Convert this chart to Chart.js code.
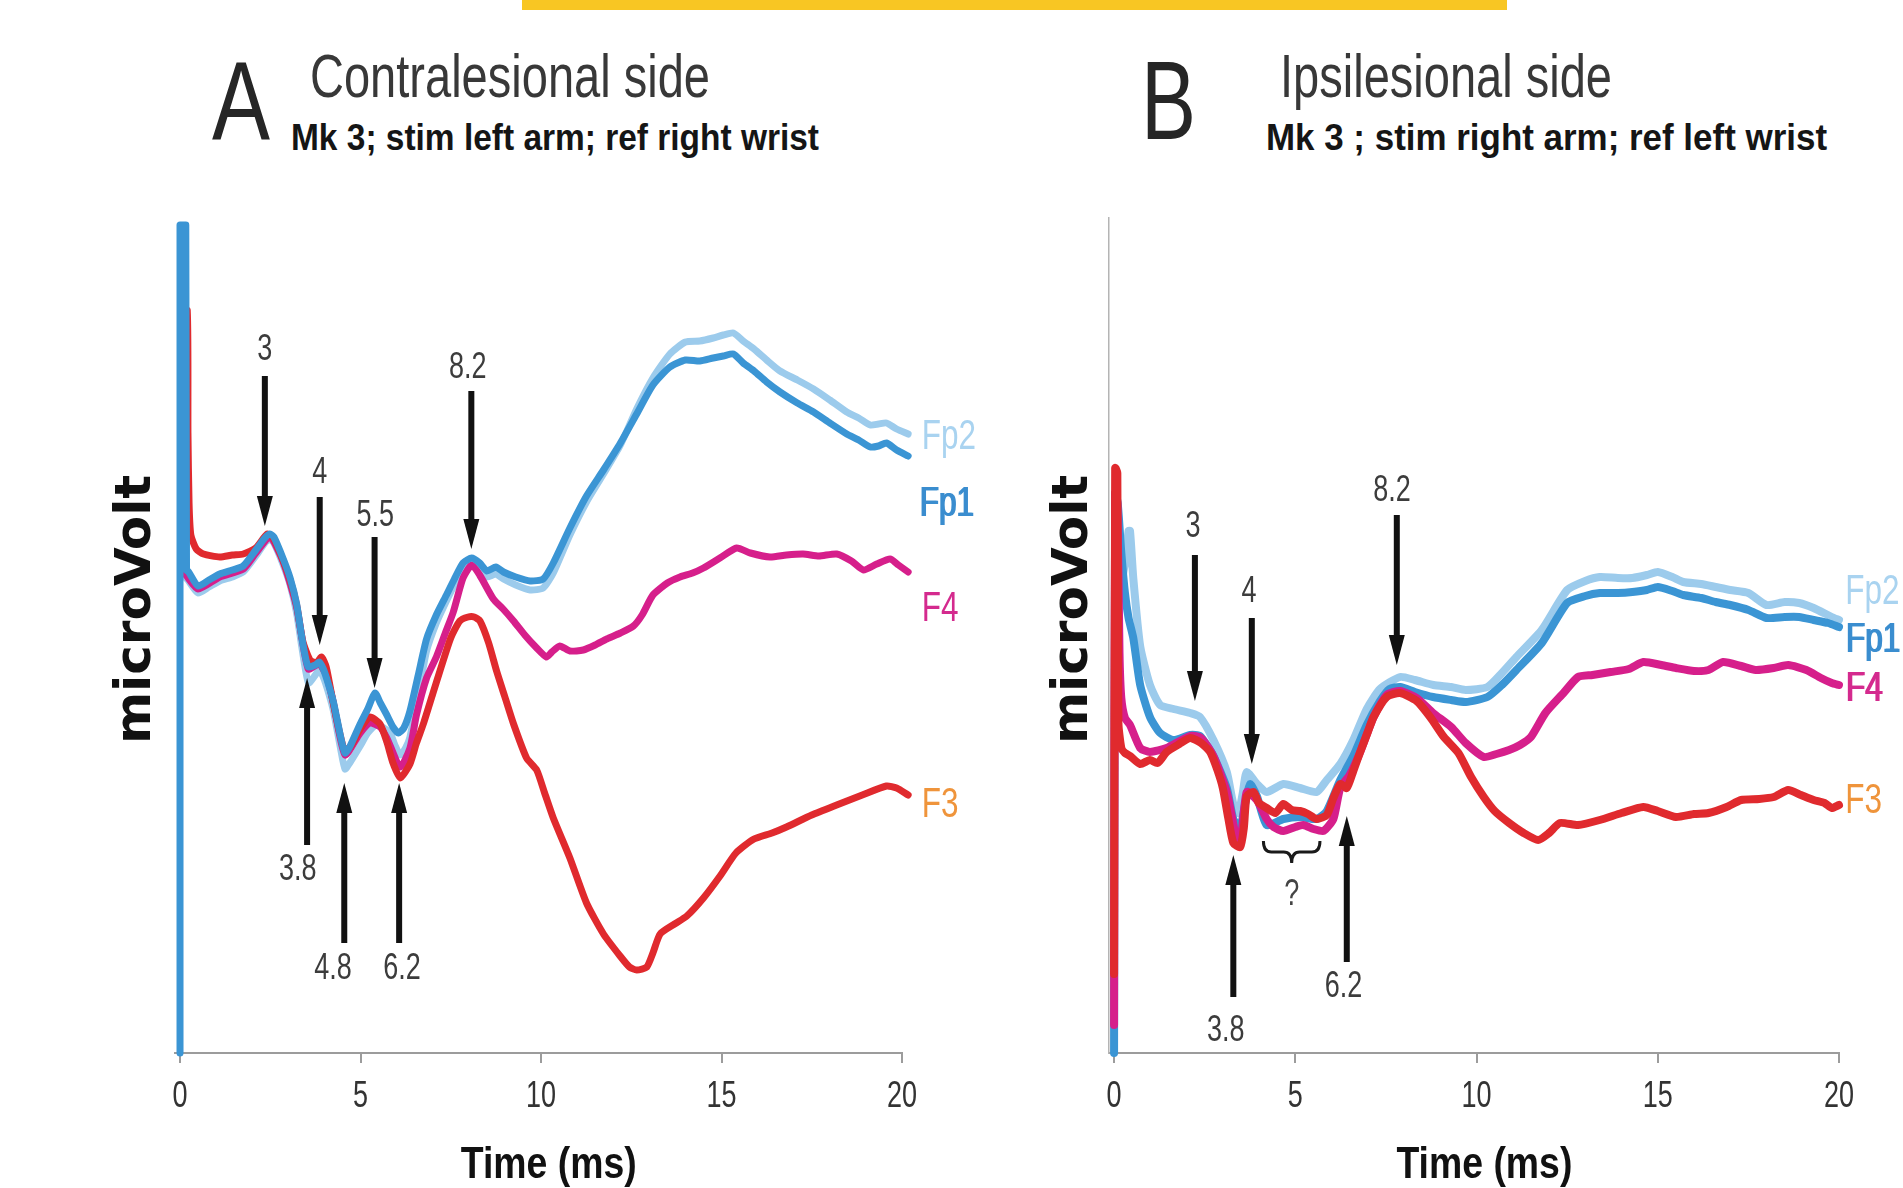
<!DOCTYPE html>
<html>
<head>
<meta charset="utf-8">
<title>Evoked potentials – contralesional and ipsilesional side</title>
<script src="https://cdn.jsdelivr.net/npm/chart.js@4.4.1/dist/chart.umd.min.js"></script>
<style>
  html, body { margin: 0; padding: 0; background: #fff; overflow: hidden; }
  body { width: 1903px; height: 1188px; position: relative; }
  .bar { position: absolute; left: 522px; top: 0; width: 985px; height: 10px; background: #f8c623; }
  .hd { position: absolute; white-space: nowrap; line-height: 1; transform-origin: 0 0; }
  .letter { font-family: 'Liberation Sans', sans-serif; font-size: 112px; color: #262626; }
  .side { font-family: 'Liberation Sans', sans-serif; font-size: 62px; color: #383838; }
  .sub { font-family: 'Liberation Sans', sans-serif; font-size: 37px; font-weight: bold; color: #151515; }
  canvas { position: absolute; top: 0; }
</style>
</head>
<body>
<div class="bar"></div>
<div class="hd letter" data-w="58" style="left:212px; top:45px;">A</div>
<div class="hd side" data-w="400" style="left:310px; top:45px;">Contralesional side</div>
<div class="hd sub" data-w="528" style="left:291px; top:119px;">Mk 3; stim left arm; ref right wrist</div>
<div class="hd letter" data-w="55" style="left:1141px; top:45px;">B</div>
<div class="hd side" data-w="332" style="left:1280px; top:45px;">Ipsilesional side</div>
<div class="hd sub" data-w="561" style="left:1266px; top:119px;">Mk 3 ; stim right arm; ref left wrist</div>
<canvas id="contra" width="1000" height="1188" style="left:0;"></canvas>
<canvas id="ipsi" width="903" height="1188" style="left:1000px;"></canvas>
<script>
// ---- Time axis ----
const timeTicks = [0, 5, 10, 15, 20];

// ---- A: contralesional side, [time ms, µV] ----
const contraFp2 = [[0.1,50],[0.16,47.5],[0.22,47.3],[0.5,46.0],[0.8,46.6],[1.1,47.2],[1.45,47.6],[1.75,48.1],[2.1,49.7],[2.35,51.0],[2.49,51.4],[2.6,51.0],[2.86,48.8],[3.05,46.8],[3.23,44.0],[3.4,40.0],[3.56,37.0],[3.75,37.8],[3.85,38.3],[3.97,37.6],[4.1,36.2],[4.25,34.2],[4.45,30.4],[4.57,28.4],[4.7,29.0],[4.99,30.7],[5.2,32.0],[5.45,32.9],[5.6,32.6],[5.82,32.0],[5.95,30.8],[6.1,29.8],[6.25,30.5],[6.37,31.6],[6.6,35.8],[6.83,40.2],[7.1,43.0],[7.38,45.2],[7.6,46.8],[7.84,48.4],[8.08,48.9],[8.3,48.4],[8.5,47.6],[8.75,47.9],[8.96,47.4],[9.3,46.8],[9.7,46.3],[10.06,46.5],[10.34,48.0],[10.8,51.8],[11.26,55.1],[11.73,57.9],[12.2,60.8],[12.65,64.4],[13.1,67.5],[13.57,69.9],[14.0,71.1],[14.4,71.2],[14.77,71.5],[15.05,71.8],[15.33,72.0],[15.6,71.2],[15.9,70.4],[16.25,69.3],[16.62,68.2],[17.1,67.3],[17.55,66.4],[18.0,65.3],[18.47,64.1],[18.8,63.5],[19.12,62.8],[19.35,62.9],[19.57,63.0],[19.85,62.4],[20.17,61.9]];
// stimulus artefact on Fp1 (drawn with straight edges)
const contraFp1Artefact = [[0,0],[0,82.8],[0.16,82.8],[0.18,48.3]];
const contraFp1 = [[0.18,48.3],[0.24,48.1],[0.5,46.7],[0.8,47.3],[1.1,47.9],[1.45,48.3],[1.75,48.7],[2.1,50.3],[2.35,51.5],[2.49,51.9],[2.6,51.6],[2.86,49.4],[3.05,47.5],[3.23,44.9],[3.4,41.0],[3.55,38.6],[3.75,38.8],[3.85,39.1],[3.97,38.4],[4.1,37.0],[4.25,35.1],[4.45,31.6],[4.57,30.0],[4.7,30.6],[4.99,32.9],[5.2,34.4],[5.4,36.0],[5.55,35.0],[5.73,33.8],[5.9,32.6],[6.05,32.0],[6.2,32.5],[6.37,34.2],[6.6,37.8],[6.83,41.4],[7.1,43.8],[7.38,45.8],[7.6,47.4],[7.84,49.0],[8.08,49.5],[8.3,49.0],[8.5,48.2],[8.75,48.6],[8.96,48.1],[9.3,47.6],[9.7,47.2],[10.06,47.4],[10.34,49.0],[10.8,52.5],[11.26,55.7],[11.73,58.3],[12.2,61.0],[12.65,63.9],[13.1,66.8],[13.57,68.6],[14.0,69.3],[14.4,69.2],[14.77,69.5],[15.05,69.7],[15.33,69.9],[15.6,69.0],[15.9,68.2],[16.25,67.1],[16.62,66.1],[17.1,65.0],[17.55,64.1],[18.0,63.0],[18.47,61.9],[18.8,61.3],[19.12,60.6],[19.35,60.7],[19.57,61.0],[19.85,60.3],[20.17,59.7]];
const contraF4 = [[0.1,48],[0.16,47.8],[0.5,46.4],[1.1,47.6],[1.75,48.4],[2.1,50.0],[2.49,51.6],[2.86,49.1],[3.23,44.6],[3.55,38.4],[3.85,38.9],[4.05,37.8],[4.25,35.0],[4.57,29.8],[4.99,32.0],[5.26,33.0],[5.54,32.6],[5.73,31.5],[6.1,28.6],[6.37,30.5],[6.55,33.8],[6.83,37.5],[7.1,39.6],[7.35,42.0],[7.57,44.1],[7.84,47.5],[8.08,48.8],[8.3,47.8],[8.68,45.4],[8.95,44.4],[9.24,43.2],[9.55,41.8],[9.88,40.5],[10.15,39.6],[10.3,40.1],[10.52,40.7],[10.8,40.2],[11.17,40.3],[11.5,40.8],[11.82,41.4],[12.2,42.0],[12.56,42.7],[12.8,43.8],[13.1,45.8],[13.5,47.0],[13.85,47.6],[14.2,48.0],[14.5,48.5],[15.0,49.6],[15.42,50.5],[15.8,50.0],[16.34,49.6],[16.8,49.8],[17.26,49.9],[17.7,49.7],[18.19,49.9],[18.6,49.2],[18.93,48.3],[19.3,48.9],[19.67,49.4],[19.9,48.8],[20.17,48.1]];
const contraF3 = [[0.05,74.5],[0.2,74.3],[0.22,62],[0.25,55],[0.3,51.8],[0.45,50.4],[0.65,49.9],[1.1,49.6],[1.45,49.8],[1.75,49.9],[2.1,50.5],[2.42,51.9],[2.6,51.4],[2.86,49.2],[3.05,47.3],[3.23,44.8],[3.4,41.2],[3.6,39.3],[3.78,39.0],[3.92,39.6],[4.05,38.6],[4.25,34.9],[4.45,31.6],[4.57,30.2],[4.75,30.8],[4.99,32.4],[5.26,33.6],[5.54,32.9],[5.73,31.1],[5.9,29.0],[6.1,27.5],[6.37,28.9],[6.55,31.0],[6.74,32.9],[7.0,35.9],[7.2,38.2],[7.5,41.5],[7.75,43.2],[7.98,43.6],[8.15,43.6],[8.31,43.2],[8.55,41.0],[8.77,38.2],[9.0,35.6],[9.24,32.9],[9.6,29.5],[9.88,28.3],[10.1,26.0],[10.34,23.5],[10.8,19.5],[11.26,15.0],[11.73,11.9],[12.19,9.7],[12.45,8.6],[12.65,8.3],[12.93,8.6],[13.1,10.0],[13.3,11.9],[13.7,12.9],[14.04,13.7],[14.5,15.5],[14.96,17.7],[15.4,20.0],[15.9,21.4],[16.4,22.0],[16.8,22.6],[17.5,23.8],[18.19,24.8],[18.9,25.8],[19.57,26.7],[19.85,26.5],[20.17,25.8]];

// ---- B: ipsilesional side, [time ms, µV] ----
const ipsiFp2 = [[0.1,45],[0.3,49],[0.4,52.2],[0.44,52.2],[0.53,47.5],[0.72,40.7],[0.99,36.8],[1.27,34.8],[1.64,34.4],[2.1,34.0],[2.37,33.6],[2.74,31.3],[3.11,28.1],[3.29,24.9],[3.43,24.0],[3.55,26.0],[3.66,28.1],[3.94,26.9],[4.21,26.1],[4.67,26.9],[5.13,26.5],[5.59,26.1],[5.87,27.3],[6.24,28.9],[6.6,31.3],[6.97,34.4],[7.34,36.4],[7.89,37.6],[8.3,37.3],[8.81,36.8],[9.3,36.6],[9.7,36.3],[10.3,36.6],[10.7,38.0],[11.1,39.6],[11.8,42.3],[12.5,46.3],[13.0,47.2],[13.4,47.6],[13.9,47.5],[14.3,47.5],[14.7,47.8],[15.0,48.1],[15.4,47.6],[15.7,47.1],[16.2,46.9],[16.6,46.6],[17.0,46.3],[17.5,46.0],[18.0,44.8],[18.5,45.1],[18.9,45.0],[19.3,44.5],[19.8,43.6],[20.0,43.3]];
const ipsiFp1 = [[0,0],[0.03,56],[0.1,55],[0.2,50],[0.3,46],[0.4,43.5],[0.53,41.5],[0.72,36.8],[0.99,33.6],[1.27,32.0],[1.64,31.3],[2.1,31.8],[2.37,31.7],[2.74,29.7],[3.11,26.5],[3.29,23.4],[3.48,22.6],[3.62,25.0],[3.75,26.9],[3.94,25.7],[4.21,22.8],[4.67,23.4],[5.13,23.6],[5.59,23.4],[5.87,24.2],[6.24,27.3],[6.6,29.7],[6.97,32.8],[7.34,35.2],[7.6,36.4],[7.89,36.6],[8.3,36.1],[8.8,35.6],[9.3,35.3],[9.7,35.1],[10.3,35.6],[10.7,36.8],[11.1,38.3],[11.8,41.0],[12.5,45.0],[13.0,45.7],[13.4,46.0],[13.9,46.0],[14.3,46.1],[14.7,46.3],[15.0,46.6],[15.4,46.2],[15.7,45.8],[16.2,45.5],[16.6,45.1],[17.0,44.8],[17.5,44.3],[18.0,43.5],[18.5,43.6],[18.9,43.6],[19.3,43.3],[19.7,43.0],[20.0,42.6]];
const ipsiF4 = [[0,2.8],[0.03,56],[0.09,55],[0.15,40],[0.2,35.5],[0.3,33.5],[0.44,32.8],[0.72,30.5],[0.99,30.1],[1.45,30.5],[2.1,31.7],[2.4,31.5],[2.74,29.7],[3.11,26.1],[3.38,21.4],[3.5,21.5],[3.66,26.1],[3.94,25.3],[4.21,23.4],[4.4,22.6],[4.67,22.2],[5.0,22.6],[5.22,22.8],[5.5,22.4],[5.78,22.2],[6.05,23.4],[6.24,26.5],[6.5,27.8],[6.79,30.1],[7.16,33.6],[7.52,35.8],[7.89,36.2],[8.35,35.5],[8.8,34.0],[9.3,32.6],[9.7,31.0],[10.2,29.6],[10.55,29.9],[10.9,30.3],[11.2,30.8],[11.5,31.6],[11.9,34.0],[12.4,36.0],[12.8,37.6],[13.2,37.8],[13.7,38.1],[14.2,38.4],[14.6,39.1],[15.1,38.8],[15.5,38.5],[16.0,38.2],[16.4,38.3],[16.8,39.1],[17.3,38.7],[17.7,38.3],[18.2,38.5],[18.6,38.8],[19.1,38.3],[19.5,37.5],[19.8,37.0],[20.0,36.8]];
const ipsiF3 = [[0,7.9],[0.03,58.5],[0.09,58.0],[0.12,33],[0.2,30.5],[0.3,30.0],[0.44,29.7],[0.72,28.9],[0.99,29.3],[1.2,29.0],[1.45,30.1],[1.8,30.9],[2.1,31.5],[2.4,31.0],[2.65,30.1],[2.85,28.3],[3.0,26.5],[3.15,23.5],[3.29,21.0],[3.48,20.6],[3.58,22.5],[3.66,25.7],[3.85,26.1],[4.0,25.0],[4.21,24.5],[4.45,24.0],[4.67,24.9],[4.9,24.3],[5.13,24.2],[5.35,23.9],[5.59,23.4],[5.87,23.8],[6.05,25.5],[6.24,26.9],[6.42,26.5],[6.6,28.2],[6.79,30.1],[7.0,32.1],[7.16,33.6],[7.52,35.6],[7.89,36.0],[8.35,35.2],[8.72,33.6],[9.1,31.6],[9.5,30.0],[9.85,27.6],[10.2,25.6],[10.5,24.2],[10.9,23.0],[11.3,22.0],[11.7,21.3],[12.0,22.0],[12.3,23.0],[12.8,22.8],[13.4,23.3],[14.0,24.0],[14.6,24.6],[15.0,24.2],[15.5,23.6],[16.0,23.9],[16.4,24.0],[16.9,24.6],[17.3,25.3],[17.8,25.4],[18.2,25.6],[18.6,26.3],[18.95,25.8],[19.3,25.3],[19.6,25.0],[19.8,24.5],[20.0,24.8]];

// ---- latency markers: arrow time (ms), tail / tip (µV), label text, label time (ms) and level (µV) ----
const contraMarkTimes  = [2.35, 3.87, 5.39, 8.07, 3.52, 4.55, 6.07];
const contraMarkTails  = [67.7, 55.6, 51.6, 66.2, 20.8, 11.0, 11.0];
const contraMarkTips   = [52.7, 40.8, 36.5, 50.4, 37.5, 27.0, 27.0];
const contraMarkLabels = ['3', '4', '5.5', '8.2', '3.8', '4.8', '6.2'];
const contraLabelTimes  = [2.35, 3.87, 5.41, 7.97, 3.26, 4.24, 6.15];
const contraLabelLevels = [70.3, 58.0, 53.7, 68.5, 18.3, 8.4, 8.4];

const ipsiMarkTimes  = [2.23, 3.8, 7.8, 3.29, 6.42];
const ipsiMarkTails  = [49.8, 43.5, 53.8, 5.6, 9.1];
const ipsiMarkTips   = [35.2, 28.9, 38.8, 19.8, 23.7];
const ipsiMarkLabels = ['3', '4', '8.2', '3.8', '6.2'];
const ipsiLabelTimes  = [2.18, 3.72, 7.67, 3.08, 6.33];
const ipsiLabelLevels = [52.6, 46.1, 56.2, 2.2, 6.6];
// uncertain component span: start, end (ms), brace top / point (µV), query level (µV)
const ipsiQuerySpan = [4.12, 5.68, 21.2, 19.0, 15.8];

// ---- electrode names and where they sit at the right end ----
const electrodes = ['Fp2', 'Fp1', 'F4', 'F3'];
const contraNameTimes  = [20.55, 20.47, 20.55, 20.55];
const contraNameLevels = [61.6, 54.9, 44.4, 24.8];
const ipsiNameTimes  = [20.17, 20.17, 20.17, 20.17];
const ipsiNameLevels = [46.1, 41.3, 36.4, 25.2];

// ---- styling ----
const SANS = "'Liberation Sans', Arial, sans-serif";
const lineColors  = { Fp2: '#9ccbec', Fp1: '#3b95d4', F4: '#d61f8b', F3: '#e02a2e' };
const labelColors = { Fp2: '#a9d3f0', Fp1: '#3a8dcf', F4: '#d42a8e', F3: '#ef943b' };

// fit the heading lines to their measured widths (condensed type)
document.querySelectorAll('.hd').forEach(el => {
  const w = el.getBoundingClientRect().width;
  const target = parseFloat(el.dataset.w);
  el.style.transform = 'scaleX(' + (target / w).toFixed(4) + ')';
});

// condensed lettering for the sans labels on the canvas: squeeze each string
// horizontally through fillText's maxWidth argument
const condensed = {
  id: 'condensed',
  beforeDraw(chart) {
    const ctx = chart.ctx;
    if (ctx.plainFillText) return;
    const plain = ctx.fillText;
    ctx.plainFillText = plain;
    ctx.fillText = function (text, x, y, maxWidth) {
      if (/Liberation Sans/.test(this.font)) {
        const f = /bold|[6-9]00/.test(this.font) ? 0.85 : 0.75;
        const w = this.measureText(text).width * f;
        maxWidth = maxWidth === undefined ? w : Math.min(maxWidth, w);
      }
      return maxWidth === undefined ? plain.call(this, text, x, y) : plain.call(this, text, x, y, maxWidth);
    };
  }
};

function drawArrow(ctx, x, yTail, yTip) {
  const dir = yTip > yTail ? 1 : -1;
  const headLen = 30, headHalf = 8, shaftHalf = 3;
  const yBase = yTip - dir * headLen;
  ctx.fillRect(x - shaftHalf, Math.min(yTail, yBase), shaftHalf * 2, Math.abs(yBase - yTail));
  ctx.beginPath();
  ctx.moveTo(x - headHalf, yBase);
  ctx.lineTo(x + headHalf, yBase);
  ctx.lineTo(x, yTip);
  ctx.closePath();
  ctx.fill();
}

const markers = {
  id: 'markers',
  afterDatasetsDraw(chart, args, opts) {
    const { ctx } = chart;
    const xs = chart.scales.x, ys = chart.scales.y;
    ctx.save();
    // latency arrows
    ctx.fillStyle = '#111';
    opts.times.forEach((t, i) => {
      drawArrow(ctx, xs.getPixelForValue(t), ys.getPixelForValue(opts.tails[i]), ys.getPixelForValue(opts.tips[i]));
    });
    ctx.fillStyle = '#3c3c3c';
    ctx.font = '36px ' + SANS;
    ctx.textAlign = 'center';
    ctx.textBaseline = 'middle';
    opts.labels.forEach((txt, i) => {
      ctx.fillText(txt, xs.getPixelForValue(opts.labelTimes[i]), ys.getPixelForValue(opts.labelLevels[i]));
    });
    // brace over the uncertain stretch
    if (opts.span) {
      const [t0, t1, vTop, vPoint, vQuery] = opts.span;
      const x0 = xs.getPixelForValue(t0), x1 = xs.getPixelForValue(t1);
      const xm = (x0 + x1) / 2;
      const yt = ys.getPixelForValue(vTop), yp = ys.getPixelForValue(vPoint);
      const ym = (yt + yp) / 2;
      ctx.strokeStyle = '#1a1a1a';
      ctx.lineWidth = 3;
      ctx.beginPath();
      ctx.moveTo(x0, yt);
      ctx.quadraticCurveTo(x0, ym, x0 + 8, ym);
      ctx.lineTo(xm - 8, ym);
      ctx.quadraticCurveTo(xm, ym, xm, yp);
      ctx.quadraticCurveTo(xm, ym, xm + 8, ym);
      ctx.lineTo(x1 - 8, ym);
      ctx.quadraticCurveTo(x1, ym, x1, yt);
      ctx.stroke();
      ctx.fillStyle = '#444';
      ctx.fillText('?', xm, ys.getPixelForValue(vQuery));
    }
    // electrode names (heavier ones are struck twice, slightly offset)
    ctx.textAlign = 'left';
    ctx.font = '42px ' + SANS;
    electrodes.forEach((name, i) => {
      const px = xs.getPixelForValue(opts.nameTimes[i]);
      const py = ys.getPixelForValue(opts.nameLevels[i]);
      ctx.fillStyle = labelColors[name];
      ctx.fillText(name, px, py);
      if (opts.heavyNames.includes(name)) {
        ctx.fillText(name, px + 1.5, py);
      }
    });
    ctx.restore();
  }
};

function series(name, pts, width, order, tension) {
  return {
    label: name,
    data: pts.map(p => ({ x: p[0], y: p[1] })),
    borderColor: lineColors[name],
    borderWidth: width,
    pointRadius: 0,
    tension: tension === undefined ? 0.2 : tension,
    borderJoinStyle: 'round',
    borderCapStyle: 'round',
    clip: false,
    order: order
  };
}

function panel(canvasId, datasets, cfg) {
  return new Chart(document.getElementById(canvasId), {
    type: 'line',
    data: { datasets },
    plugins: [condensed, markers],
    options: {
      responsive: false,
      animation: false,
      events: [],
      layout: { padding: { left: 0, top: 218, right: cfg.padRight, bottom: 0 } },
      plugins: {
        legend: { display: false },
        tooltip: { enabled: false },
        markers: cfg.markers
      },
      scales: {
        x: {
          type: 'linear',
          min: cfg.xMin,
          max: 20,
          afterBuildTicks: s => { s.ticks = timeTicks.map(v => ({ value: v })); },
          afterFit: s => { s.height = 135; },
          ticks: { font: { family: SANS, size: 36 }, color: '#333', padding: 12, maxRotation: 0, callback: v => String(v) },
          grid: { display: true, drawOnChartArea: false, drawTicks: true, tickLength: 10, color: '#9c9c9c', lineWidth: 2 },
          border: { display: true, color: '#9c9c9c', width: 2 },
          title: { display: true, text: '  Time (ms)', color: '#111', padding: 0,
                   font: { family: SANS, size: 44, weight: 'bold', lineHeight: 1 } }
        },
        y: {
          min: 0,
          max: 83.5,
          afterFit: s => { s.width = cfg.yWidth; },
          ticks: { display: false },
          grid: { display: false },
          border: { display: cfg.yBorder, color: '#b4b4b4', width: 1.5 },
          title: { display: true, text: '   microVolt', color: '#111', padding: { top: cfg.yTitlePad, bottom: 0 },
                   font: { family: "'DejaVu Sans', sans-serif", size: 50, weight: 'bold', lineHeight: 1 } }
        }
      }
    }
  });
}

panel('contra', [
  series('Fp1', contraFp1Artefact, 7, 0, 0),
  series('Fp2', contraFp2, 7, 4),
  series('Fp1', contraFp1, 7, 1),
  series('F4', contraF4, 7, 3),
  series('F3', contraF3, 7, 2)
], {
  xMin: -0.15, yWidth: 174.6, padRight: 98, yTitlePad: 112, yBorder: false,
  markers: {
    times: contraMarkTimes, tails: contraMarkTails, tips: contraMarkTips,
    labels: contraMarkLabels, labelTimes: contraLabelTimes, labelLevels: contraLabelLevels, span: null,
    nameTimes: contraNameTimes, nameLevels: contraNameLevels, heavyNames: ['Fp1']
  }
});

panel('ipsi', [
  series('Fp2', ipsiFp2, 8, 3),
  series('Fp1', ipsiFp1, 8, 2),
  series('F4', ipsiF4, 8, 1),
  series('F3', ipsiF3, 8, 0)
], {
  xMin: -0.14, yWidth: 109, padRight: 64, yTitlePad: 49, yBorder: true,
  markers: {
    times: ipsiMarkTimes, tails: ipsiMarkTails, tips: ipsiMarkTips,
    labels: ipsiMarkLabels, labelTimes: ipsiLabelTimes, labelLevels: ipsiLabelLevels, span: ipsiQuerySpan,
    nameTimes: ipsiNameTimes, nameLevels: ipsiNameLevels, heavyNames: ['Fp1', 'F4']
  }
});
</script>
</body>
</html>
